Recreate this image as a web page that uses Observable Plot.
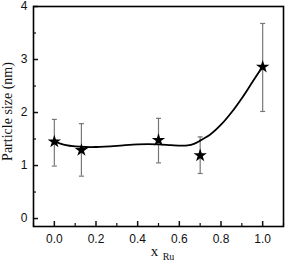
<!DOCTYPE html>
<html><head><meta charset="utf-8">
<script src="https://cdn.jsdelivr.net/npm/d3@7"></script>
<script src="https://cdn.jsdelivr.net/npm/@observablehq/plot@0.6"></script>
<style>
body{margin:0;background:#fff}
#c svg{background:#fff}
</style>
</head><body><div id="c"></div>
<script>
const xRu = [0, 0.13, 0.5, 0.7, 1.0];
const size = [1.45, 1.29, 1.48, 1.19, 2.86];
const errLow = [0.99, 0.80, 1.05, 0.85, 2.02];
const errHigh = [1.87, 1.79, 1.89, 1.54, 3.68];
const fitX = [0, 0.05, 0.1, 0.15, 0.2, 0.3, 0.4, 0.5, 0.56, 0.61, 0.64, 0.67, 0.70, 0.75, 0.8, 0.85, 0.9, 0.95, 1.0];
const fitY = [1.45, 1.39, 1.36, 1.35, 1.35, 1.37, 1.40, 1.40, 1.385, 1.375, 1.38, 1.41, 1.47, 1.59, 1.77, 2.0, 2.27, 2.57, 2.87];
const xTicks = [0, 0.2, 0.4, 0.6, 0.8, 1.0];
const xMinor = [-0.1, 0.1, 0.3, 0.5, 0.7, 0.9, 1.1];
const yTicks = [0, 1, 2, 3, 4];
const yMinor = [0.5, 1.5, 2.5, 3.5];
const yLabel = "Particle size (nm)";
const xLabelMain = "x";
const xLabelSub = "Ru";

const pts = xRu.map((x, i) => ({x, y: size[i], lo: errLow[i], hi: errHigh[i]}));
const fit = fitX.map((x, i) => ({x, y: fitY[i]}));
const capW = 0.012;

const plot = Plot.plot({
  width: 285, height: 262,
  marginLeft: 33, marginRight: 2, marginTop: 6, marginBottom: 36,
  x: {domain: [-0.1, 1.1]},
  y: {domain: [-0.15, 4]},
  style: {fontFamily: "Liberation Sans, Arial, sans-serif", fontSize: "12px", color: "#111"},
  marks: [
    Plot.axisX({ticks: xTicks, tickSize: -5, tickPadding: 13, tickFormat: d3.format(".1f"), label: null, strokeWidth: 1.5}),
    Plot.axisX({ticks: xMinor, tickSize: -3, text: null, label: null, strokeWidth: 1.2}),
    Plot.axisY({ticks: yTicks, tickSize: -5, tickPadding: 11, tickFormat: d3.format("d"), label: null, strokeWidth: 1.5}),
    Plot.axisY({ticks: yMinor, tickSize: -3, text: null, label: null, strokeWidth: 1.2}),
    Plot.ruleX(pts, {x: "x", y1: "lo", y2: "hi", stroke: "#777", strokeWidth: 1.2}),
    Plot.link(pts, {x1: d => d.x - capW, x2: d => d.x + capW, y1: "lo", y2: "lo", stroke: "#777", strokeWidth: 1.2}),
    Plot.link(pts, {x1: d => d.x - capW, x2: d => d.x + capW, y1: "hi", y2: "hi", stroke: "#777", strokeWidth: 1.2}),
    Plot.line(fit, {x: "x", y: "y", curve: "catmull-rom", stroke: "#000", strokeWidth: 1.8}),
    Plot.dot(pts, {x: "x", y: "y", symbol: "star", r: 4.2, fill: "#000", stroke: "none"}),
    Plot.frame({stroke: "#000", strokeWidth: 1.6}),
    Plot.text([yLabel], {frameAnchor: "left", textAnchor: "middle", dx: -26, dy: -5, rotate: -90, fontFamily: "Liberation Serif, serif", fontSize: 14, fill: "#111"}),
    Plot.text([xLabelMain], {frameAnchor: "bottom", dx: -4, dy: 29, fontFamily: "Liberation Serif, serif", fontSize: 15, fill: "#111"}),
    Plot.text([xLabelSub], {frameAnchor: "bottom", dx: 10, dy: 33, fontFamily: "Liberation Serif, serif", fontSize: 10, fill: "#111"})
  ]
});
document.getElementById("c").appendChild(plot);
</script>
</body></html>
